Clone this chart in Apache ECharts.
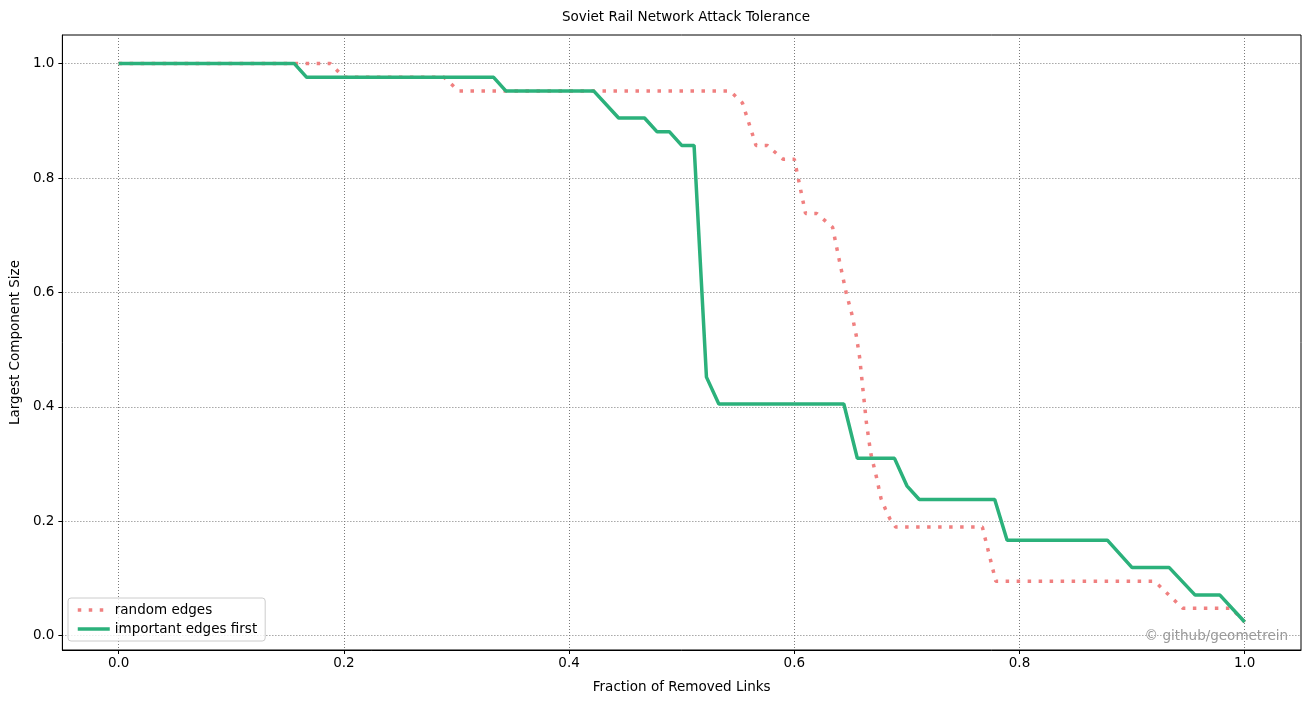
<!DOCTYPE html>
<html>
<head>
<meta charset="utf-8">
<script src="https://cdn.jsdelivr.net/npm/echarts@6/dist/echarts.min.js"></script>
<style>
  html, body { margin: 0; padding: 0; background: #fff; }
  #chart { width: 1311px; height: 704px; }
</style>
</head>
<body>
<div id="chart"></div>
<script>
// values
var tickValues = [0, 0.2, 0.4, 0.6, 0.8, 1.0];

// important edges first (corner points)
var greenX = [0, 0.156, 0.167, 0.333, 0.344, 0.422, 0.444, 0.467, 0.478, 0.489, 0.5, 0.511,
    0.522, 0.533, 0.644, 0.656, 0.689, 0.7, 0.711, 0.778, 0.789, 0.878, 0.9, 0.933, 0.956, 0.978, 1.0];
var greenY = [1.0, 1.0, 0.976, 0.976, 0.952, 0.952, 0.905, 0.905, 0.881, 0.881, 0.857, 0.857,
    0.452, 0.405, 0.405, 0.310, 0.310, 0.262, 0.238, 0.238, 0.167, 0.167, 0.119, 0.119, 0.071, 0.071, 0.024];

// random edges (corner points)
var redX = [0, 0.188, 0.2, 0.289, 0.302, 0.543, 0.554, 0.566, 0.576, 0.590, 0.600, 0.610, 0.620,
    0.634, 0.640, 0.646, 0.651, 0.655, 0.658, 0.661, 0.664, 0.668, 0.673, 0.677, 0.681, 0.685,
    0.690, 0.767, 0.779, 0.920, 0.945, 0.988, 1.0];
var redY = [1.0, 1.0, 0.976, 0.976, 0.952, 0.952, 0.931, 0.857, 0.857, 0.833, 0.833, 0.738, 0.738,
    0.714, 0.656, 0.600, 0.563, 0.525, 0.487, 0.430, 0.373, 0.318, 0.277, 0.240, 0.221, 0.204,
    0.190, 0.190, 0.095, 0.095, 0.048, 0.048, 0.024];

function pairs(xs, ys) {
    var out = [];
    for (var i = 0; i < xs.length; i++) {
        out.push([xs[i], ys[i]]);
    }
    return out;
}

var font = 'DejaVu Sans';
var fs = 13.5;
var redColor = '#f08080';
var greenColor = '#2bb17b';
var redDash = [3.5, 7.5];
var gridLine = { show: true, lineStyle: { color: '#7a7a7a', type: [1, 2], width: 1 } };

var myChart = echarts.init(document.getElementById('chart'), null, { renderer: 'canvas' });

myChart.setOption({
    backgroundColor: '#fff',
    animation: false,
    title: {
        text: 'Soviet Rail Network Attack Tolerance',
        left: 681,
        textAlign: 'center',
        top: 5,
        textStyle: { fontFamily: font, fontSize: fs, fontWeight: 'normal', color: '#000' }
    },
    grid: {
        left: 61, right: 10, top: 35, bottom: 54,
        show: true, borderColor: '#000', borderWidth: 1, backgroundColor: 'transparent'
    },
    legend: {
        orient: 'vertical',
        left: 68,
        top: 598,
        padding: [5, 8, 5, 8],
        itemGap: 5,
        itemWidth: 32,
        itemHeight: 14,
        borderColor: '#cccccc',
        borderWidth: 1,
        borderRadius: 3,
        backgroundColor: 'rgba(255,255,255,0.8)',
        itemStyle: { opacity: 0 },
        textStyle: { fontFamily: font, fontSize: fs, color: '#000' },
        data: [
            { name: 'random edges', lineStyle: { width: 3.5, type: redDash, color: redColor } },
            { name: 'important edges first', lineStyle: { width: 3.5, color: greenColor } }
        ]
    },
    xAxis: {
        type: 'value',
        min: -0.05,
        max: 1.05,
        name: 'Fraction of Removed Links',
        nameLocation: 'middle',
        nameGap: 30,
        nameTextStyle: { fontFamily: font, fontSize: fs, color: '#000' },
        axisLine: { show: true, onZero: false, lineStyle: { color: '#000' } },
        axisTick: { show: true, inside: false, length: 4, customValues: tickValues, lineStyle: { color: '#000' } },
        axisLabel: {
            customValues: tickValues, margin: 6,
            fontFamily: font, fontSize: fs, color: '#000',
            formatter: function (v) { return v.toFixed(1); }
        },
        splitLine: gridLine
    },
    yAxis: {
        type: 'value',
        min: -0.025,
        max: 1.05,
        name: 'Largest Component Size',
        nameLocation: 'middle',
        nameGap: 38,
        nameTextStyle: { fontFamily: font, fontSize: fs, color: '#000' },
        axisLine: { show: true, onZero: false, lineStyle: { color: '#000' } },
        axisTick: { show: true, inside: false, length: 4, customValues: tickValues, lineStyle: { color: '#000' } },
        axisLabel: {
            customValues: tickValues, margin: 8,
            fontFamily: font, fontSize: fs, color: '#000',
            formatter: function (v) { return v.toFixed(1); }
        },
        splitLine: gridLine
    },
    graphic: [{
        type: 'text',
        right: 23,
        top: 629,
        style: { text: '© github/geometrein', fill: '#999', font: fs + 'px "DejaVu Sans"' },
        z: 100
    }],
    series: [
        {
            name: 'random edges',
            type: 'line',
            data: pairs(redX, redY),
            symbol: 'none',
            color: redColor,
            lineStyle: { color: redColor, width: 3.5, type: redDash, cap: 'butt' },
            z: 2
        },
        {
            name: 'important edges first',
            type: 'line',
            data: pairs(greenX, greenY),
            symbol: 'none',
            color: greenColor,
            lineStyle: { color: greenColor, width: 3.5 },
            z: 3
        }
    ]
});
</script>
</body>
</html>
